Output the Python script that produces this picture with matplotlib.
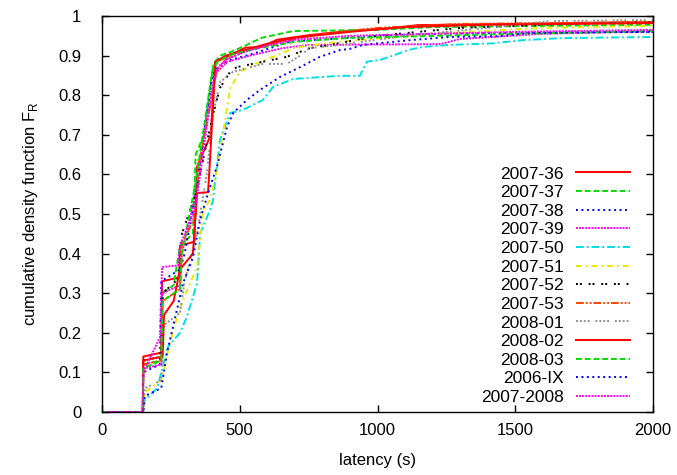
import numpy as np
import matplotlib
matplotlib.use("Agg")
import matplotlib.pyplot as plt

plt.rcParams['font.family'] = ['Liberation Sans', 'DejaVu Sans']
plt.rcParams['mathtext.fontset'] = 'custom'
plt.rcParams['mathtext.rm'] = 'Liberation Sans'

# latency (s) / CDF values
lat_0736 = [0, 148, 150, 215, 218, 280, 283, 335, 345, 395, 410, 445, 520, 580, 635, 755, 890, 1060, 1145, 1500, 2000]
cdf_0736 = [0, 0, 0.14, 0.15, 0.33, 0.34, 0.42, 0.43, 0.62, 0.70, 0.884, 0.894, 0.92, 0.922, 0.94, 0.952, 0.962, 0.97, 0.977, 0.98, 0.985]

lat_0737 = [0, 148, 150, 215, 218, 260, 283, 330, 340, 370, 405, 430, 470, 520, 580, 694, 1000, 1200, 1600, 2000]
cdf_0737 = [0, 0, 0.12, 0.13, 0.30, 0.32, 0.42, 0.45, 0.65, 0.70, 0.88, 0.90, 0.91, 0.925, 0.945, 0.962, 0.965, 0.972, 0.975, 0.978]

lat_0738 = [0, 148, 150, 210, 215, 283, 300, 340, 400, 420, 470, 550, 680, 890, 1000, 1200, 1600, 2000]
cdf_0738 = [0, 0, 0.10, 0.12, 0.33, 0.36, 0.40, 0.55, 0.85, 0.87, 0.89, 0.905, 0.935, 0.945, 0.95, 0.955, 0.958, 0.96]

lat_0739 = [0, 148, 150, 215, 220, 283, 290, 340, 380, 417, 454, 537, 657, 755, 1000, 1227, 1300, 1600, 2000]
cdf_0739 = [0, 0, 0.11, 0.12, 0.30, 0.32, 0.40, 0.55, 0.75, 0.859, 0.884, 0.90, 0.919, 0.927, 0.928, 0.929, 0.942, 0.955, 0.962]

lat_0750 = [0, 150, 155, 200, 240, 283, 308, 345, 356, 392, 403, 428, 465, 512, 584, 621, 694, 864, 936, 962, 1009,
            1056, 1111, 1165, 1263, 1419, 1528, 1662, 2000]
cdf_0750 = [0, 0, 0.03, 0.06, 0.165, 0.2, 0.24, 0.325, 0.45, 0.51, 0.535, 0.687, 0.755, 0.763, 0.788, 0.821, 0.841,
            0.849, 0.849, 0.885, 0.889, 0.9, 0.914, 0.922, 0.927, 0.931, 0.939, 0.944, 0.947]

lat_0751 = [0, 150, 155, 215, 258, 294, 345, 367, 392, 420, 446, 465, 501, 548, 610, 657, 694, 800, 940, 1200, 1600, 2000]
cdf_0751 = [0, 0, 0.05, 0.08, 0.207, 0.283, 0.366, 0.51, 0.535, 0.62, 0.732, 0.818, 0.859, 0.876, 0.894, 0.907, 0.919,
            0.93, 0.94, 0.955, 0.97, 0.975]

lat_0752 = [0, 148, 150, 215, 220, 283, 290, 340, 380, 403, 428, 465, 490, 671, 755, 828, 1000, 1300, 1700, 2000]
cdf_0752 = [0, 0, 0.13, 0.14, 0.30, 0.34, 0.45, 0.55, 0.68, 0.75, 0.818, 0.859, 0.871, 0.897, 0.919, 0.927, 0.95, 0.97, 0.98, 0.985]

lat_0753 = [0, 148, 150, 215, 220, 283, 290, 340, 350, 400, 415, 450, 530, 650, 800, 1000, 1300, 2000]
cdf_0753 = [0, 0, 0.12, 0.13, 0.28, 0.31, 0.42, 0.50, 0.62, 0.80, 0.86, 0.89, 0.915, 0.935, 0.955, 0.97, 0.98, 0.985]

lat_0801 = [0, 150, 155, 215, 225, 283, 300, 345, 380, 403, 428, 476, 584, 671, 719, 755, 864, 1100, 1400, 1626, 2000]
cdf_0801 = [0, 0, 0.06, 0.08, 0.22, 0.25, 0.33, 0.45, 0.60, 0.75, 0.833, 0.859, 0.879, 0.879, 0.9, 0.919, 0.927, 0.95,
            0.97, 0.987, 0.99]

lat_0802 = [0, 148, 150, 220, 225, 260, 283, 330, 345, 385, 392, 412, 450, 500, 600, 700, 900, 1100, 1400, 2000]
cdf_0802 = [0, 0, 0.13, 0.14, 0.245, 0.28, 0.36, 0.40, 0.553, 0.555, 0.636, 0.885, 0.90, 0.91, 0.93, 0.945, 0.96, 0.972, 0.978, 0.982]

lat_0803 = [0, 148, 150, 215, 220, 283, 290, 340, 400, 420, 480, 580, 700, 900, 1100, 1500, 2000]
cdf_0803 = [0, 0, 0.11, 0.13, 0.28, 0.31, 0.40, 0.58, 0.86, 0.885, 0.905, 0.92, 0.935, 0.945, 0.948, 0.955, 0.962]

lat_06ix = [0, 150, 155, 215, 236, 272, 294, 330, 356, 385, 417, 454, 476, 526, 573, 646, 719, 791, 864, 900, 947,
            1118, 1263, 1445, 1543, 2000]
cdf_06ix = [0, 0, 0.04, 0.06, 0.15, 0.258, 0.325, 0.39, 0.485, 0.553, 0.62, 0.72, 0.755, 0.788, 0.813, 0.846, 0.871,
            0.897, 0.914, 0.917, 0.927, 0.939, 0.947, 0.949, 0.957, 0.96]

lat_0708 = [0, 148, 150, 211, 218, 276, 283, 340, 380, 405, 420, 450, 520, 600, 700, 900, 1200, 1500, 2000]
cdf_0708 = [0, 0, 0.10, 0.19, 0.366, 0.37, 0.42, 0.52, 0.72, 0.84, 0.87, 0.89, 0.91, 0.925, 0.94, 0.95, 0.955, 0.96, 0.965]

labels = ["2007-36", "2007-37", "2007-38", "2007-39", "2007-50", "2007-51", "2007-52",
          "2007-53", "2008-01", "2008-02", "2008-03", "2006-IX", "2007-2008"]
xs = [lat_0736, lat_0737, lat_0738, lat_0739, lat_0750, lat_0751, lat_0752,
      lat_0753, lat_0801, lat_0802, lat_0803, lat_06ix, lat_0708]
ys = [cdf_0736, cdf_0737, cdf_0738, cdf_0739, cdf_0750, cdf_0751, cdf_0752,
      cdf_0753, cdf_0801, cdf_0802, cdf_0803, cdf_06ix, cdf_0708]

# gnuplot-like line types
colors = ['#ff0000', '#00dd00', '#0000ff', '#ff00ff', '#00e0e0', '#e8e800', '#000000',
          '#ff4500', '#909090', '#ff0000', '#00dd00', '#0000ff', '#ff00ff']
dashes = [None, (3, 1.5), (1, 1.8), (1, 0.6), (4, 1.5, 1, 1.5), (3, 2, 1, 2), (1, 1, 1, 3.5),
          (4, 1, 1, 1, 1, 1), (1, 1, 1, 1, 1, 1, 1, 3), None, (3, 1.5), (1, 1.8), (1, 0.6)]

fig = plt.figure(figsize=(6.77, 4.75), dpi=100)
ax = fig.add_axes([102 / 677, 63 / 475, 551 / 677, 396 / 475])

for i in range(len(labels)):
    line, = ax.plot(xs[i], ys[i], color=colors[i], lw=1.4, label=labels[i])
    if dashes[i] is not None:
        line.set_dashes(dashes[i])

ax.set_xlim(0, 2000)
ax.set_ylim(0, 1)
ax.set_xticks([0, 500, 1000, 1500, 2000])
yt = [0, 0.1, 0.2, 0.3, 0.4, 0.5, 0.6, 0.7, 0.8, 0.9, 1]
ax.set_yticks(yt)
ax.set_yticklabels(["0", "0.1", "0.2", "0.3", "0.4", "0.5", "0.6", "0.7", "0.8", "0.9", "1"])
ax.tick_params(direction='in', length=5, width=1, top=True, right=True, labelsize=12)
ax.tick_params(axis='x', pad=8)
ax.tick_params(axis='y', pad=15)
for s in ax.spines.values():
    s.set_linewidth(1)

ax.set_xlabel("latency (s)", fontsize=12, labelpad=11)
ax.set_ylabel(r"cumulative density function F$_{\mathregular{R}}$", fontsize=12, labelpad=13)

leg = ax.legend(loc='lower right', bbox_to_anchor=(0.97, 0.0), frameon=False, markerfirst=False,
                fontsize=12.5, handlelength=3.1, handletextpad=0.7, labelspacing=0.2, borderaxespad=0)

fig.savefig("out.png", dpi=100)
